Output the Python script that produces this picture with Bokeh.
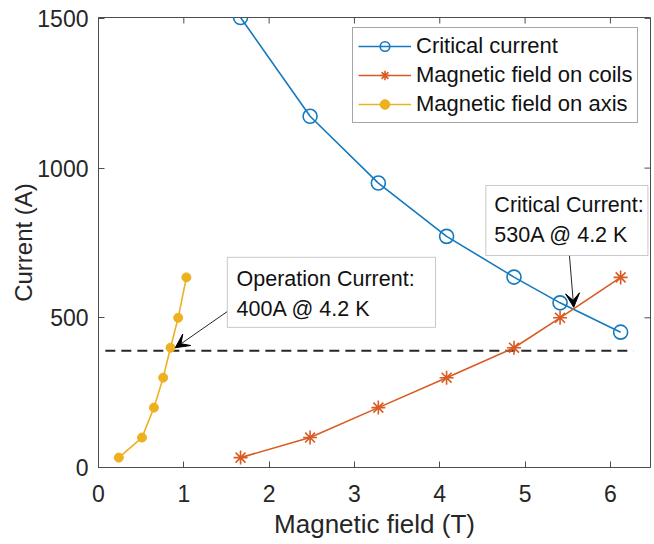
from bokeh.plotting import figure
from bokeh.models import (Range1d, FixedTicker, Label, Arrow, VeeHead,
                          Legend, LegendItem, BoxAnnotation)
from bokeh.embed import file_html
from bokeh.resources import INLINE

# ---- data ----
field_coils = [1.665, 2.48, 3.28, 4.08, 4.87, 5.41, 6.12]
critical_current = [1503, 1173, 950, 772, 636, 550, 452]
coil_current = [33, 100, 200, 300, 400, 500, 635]
field_axis = [0.238, 0.51, 0.65, 0.758, 0.844, 0.934, 1.03]
axis_current = [33, 100, 200, 300, 400, 500, 635]

x_ticks = [0, 1, 2, 3, 4, 5, 6]
y_ticks = [0, 500, 1000, 1500]

operation_level = 390
operation_span = [0.08, 6.27]

op_text = "Operation Current:\n400A @ 4.2 K"
op_text_pos = [1.618, 580]
op_box = [1.51, 3.95, 468, 702]      # left, right, bottom, top
op_arrow = [1.51, 521, 0.90, 400]

cc_text = "Critical Current:\n530A @ 4.2 K"
cc_text_pos = [4.64, 826]
cc_box = [4.54, 6.44, 708, 942]
cc_arrow = [5.52, 708, 5.57, 535]

X_MAX, Y_MAX = 6.47, 1503

BLUE = "#1479bf"
ORANGE = "#d95a22"
YELLOW = "#edb120"
AXC = "#4d4d4d"
TXT = "#262626"
FONT = "Liberation Sans"

W, H = 652, 542
BL, BR, BT, BB = 98, 2, 17, 75

p = figure(width=W, height=H, output_backend="svg", toolbar_location=None,
           x_range=Range1d(0, X_MAX), y_range=Range1d(0, Y_MAX),
           min_border_left=BL, min_border_right=BR, min_border_top=BT,
           min_border_bottom=BB)
p.grid.visible = False
p.outline_line_color = AXC
p.outline_line_width = 1
p.background_fill_color = "white"
p.border_fill_color = "white"

for ax in (p.xaxis[0], p.yaxis[0]):
    ax.major_tick_in = 6
    ax.major_tick_out = 0
    ax.minor_tick_in = 0
    ax.minor_tick_out = 0
    ax.axis_line_color = AXC
    ax.major_tick_line_color = AXC
    ax.major_label_text_font = FONT
    ax.major_label_text_font_size = "23px"
    ax.major_label_text_color = TXT
    ax.axis_label_text_font = FONT
    ax.axis_label_text_font_style = "normal"
    ax.axis_label_text_color = TXT

p.xaxis[0].ticker = FixedTicker(ticks=x_ticks)
p.yaxis[0].ticker = FixedTicker(ticks=y_ticks)
p.xaxis[0].axis_label = "Magnetic field (T)"
p.yaxis[0].axis_label = "Current (A)"
p.xaxis[0].axis_label_text_font_size = "26px"
p.yaxis[0].axis_label_text_font_size = "24px"
p.xaxis[0].major_label_standoff = 17
p.yaxis[0].major_label_standoff = 10
p.xaxis[0].axis_label_standoff = 4
p.yaxis[0].axis_label_standoff = -3

# mirrored ticks on top and right edges (6 px long, inward)
px_y = Y_MAX / (H - BT - BB)
px_x = X_MAX / (W - BL - BR)
n_x = len(x_ticks)
n_y = len(y_ticks)
p.segment(x0=x_ticks, y0=[Y_MAX] * n_x, x1=x_ticks, y1=[Y_MAX - 6 * px_y] * n_x,
          line_color=AXC, line_width=1)
p.segment(x0=[X_MAX] * n_y, y0=y_ticks, x1=[X_MAX - 6 * px_x] * n_y, y1=y_ticks,
          line_color=AXC, line_width=1)

# dashed operation line
p.line(operation_span, [operation_level, operation_level], line_color="#262626",
       line_width=2, line_dash="10 6")

# series
l1 = p.line(field_coils, critical_current, line_color=BLUE, line_width=1.6)
s1 = p.scatter(field_coils, critical_current, marker="circle", size=14,
               fill_color=None, line_color=BLUE, line_width=1.6)
l2 = p.line(field_coils, coil_current, line_color=ORANGE, line_width=1.6)
s2 = p.scatter(field_coils, coil_current, marker="asterisk", size=14,
               line_color=ORANGE, line_width=1.6)
l3 = p.line(field_axis, axis_current, line_color=YELLOW, line_width=1.6)
s3 = p.scatter(field_axis, axis_current, marker="circle", size=9,
               fill_color=YELLOW, line_color=YELLOW)

legend = Legend(items=[
    LegendItem(label="Critical current", renderers=[l1, s1]),
    LegendItem(label="Magnetic field on coils", renderers=[l2, s2]),
    LegendItem(label="Magnetic field on axis", renderers=[l3, s3]),
], location=(254, 344))
legend.label_text_font = FONT
legend.label_text_font_size = "22px"
legend.label_text_color = "#111111"
legend.glyph_width = 53
legend.glyph_height = 24
legend.label_height = 24
legend.label_standoff = 5
legend.spacing = 3
legend.padding = 5
legend.margin = 0
legend.border_line_color = AXC
legend.border_line_width = 1
legend.background_fill_color = "white"
legend.background_fill_alpha = 1
p.add_layout(legend)

# annotations: boxes, texts, arrows
for box in (op_box, cc_box):
    p.add_layout(BoxAnnotation(left=box[0], right=box[1], bottom=box[2], top=box[3],
                               fill_color="white", fill_alpha=1,
                               line_color=AXC, line_width=1, level="overlay"))
for txt, pos in ((op_text, op_text_pos), (cc_text, cc_text_pos)):
    p.add_layout(Label(x=pos[0], y=pos[1], text=txt, text_font=FONT,
                       text_font_size="21.5px", text_color="#111111",
                       text_align="left", text_baseline="middle",
                       text_line_height=1.25, level="overlay"))

for a in (op_arrow, cc_arrow):
    p.add_layout(Arrow(x_start=a[0], y_start=a[1], x_end=a[2], y_end=a[3],
                       line_color="#262626", line_width=1,
                       end=VeeHead(size=14, fill_color="black", line_color="black")))

open("out.html", "w").write(file_html(p, INLINE))
